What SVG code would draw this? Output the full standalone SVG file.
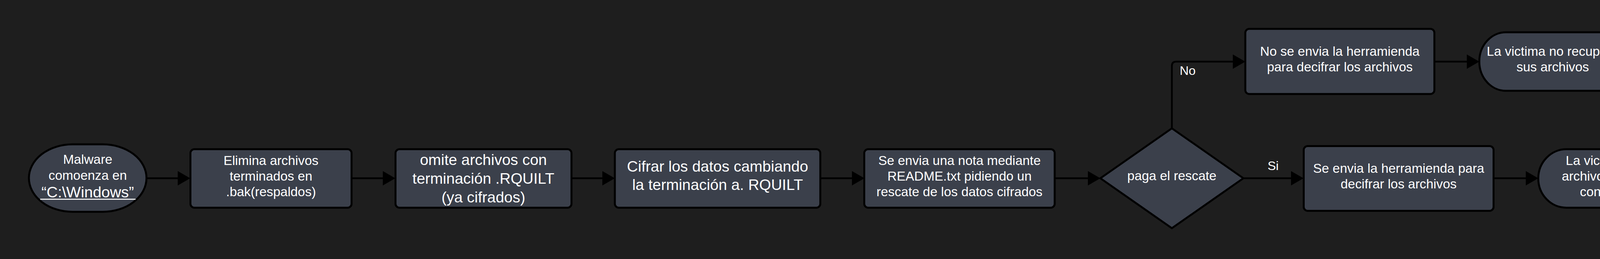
<svg xmlns="http://www.w3.org/2000/svg" width="4500" height="664" viewBox="0 0 4500 664">
<defs>
<style>
.bg{fill:#1e1e1e}
.n{fill:#3b404b;stroke:#000;stroke-width:5;stroke-linejoin:round}
.t{fill:#fff;font-family:"Liberation Sans",Arial,sans-serif;font-size:33.4px;text-anchor:middle}
.tl{font-size:39px}
.lbl{fill:#fff;font-family:"Liberation Sans",Arial,sans-serif;font-size:32px}
.c{fill:none;stroke:#000;stroke-width:4.5;marker-end:url(#ah)}
</style>
<marker id="ah" markerUnits="userSpaceOnUse" markerWidth="34" markerHeight="38" refX="12" refY="18.5" orient="auto" viewBox="0 0 34 38">
<path d="M0,0 L32,18.5 L0,37 Z" fill="#000"/>
</marker>
</defs>
<rect class="bg" x="0" y="0" width="4500" height="664"/>

<g id="connectors">
<path class="c" d="M375,457 H467"/>
<path class="c" d="M900,457 H992"/>
<path class="c" d="M1463,457 H1554"/>
<path class="c" d="M2100,457 H2193"/>
<path class="c" d="M2700,457 H2797"/>
<path class="c" d="M3000,329 V169 Q3000,158 3011,158 H3168"/>
<path class="c" d="M3183,457 H3317"/>
<path class="c" d="M3672,158 H3767"/>
<path class="c" d="M3824,457 H3918"/>
</g>

<g id="n1">
<rect class="n" x="74" y="370" width="301" height="173" rx="112" ry="86.5"/>
<text class="t" x="224.5" y="420">Malware</text>
<text class="t" x="224.5" y="460.7">comoenza en</text>
<text class="t" x="224.5" y="505.7" style="font-size:39.5px">“C:\Windows”</text>
<rect x="103" y="509.5" width="244" height="2.6" fill="#fff"/>
</g>

<g id="n2">
<rect class="n" x="487.5" y="382.5" width="412.5" height="150" rx="10"/>
<text class="t" x="693.7" y="422.7">Elimina archivos</text>
<text class="t" x="693.7" y="462.7">terminados en</text>
<text class="t" x="693.7" y="502.7">.bak(respaldos)</text>
</g>

<g id="n3">
<rect class="n" x="1012.5" y="382.5" width="450.5" height="150" rx="10"/>
<text class="t tl" x="1237.5" y="423.3">omite archivos con</text>
<text class="t tl" x="1237.5" y="471.2">terminación .RQUILT</text>
<text class="t tl" x="1237.5" y="518.5">(ya cifrados)</text>
</g>

<g id="n4">
<rect class="n" x="1574" y="382.5" width="526" height="150" rx="10"/>
<text class="t tl" x="1837" y="440">Cifrar los datos cambiando</text>
<text class="t tl" x="1837" y="487.3">la terminación a. RQUILT</text>
</g>

<g id="n5">
<rect class="n" x="2212.5" y="382.5" width="487.5" height="150" rx="10"/>
<text class="t" x="2456.3" y="423.3">Se envia una nota mediante</text>
<text class="t" x="2456.3" y="463.3">README.txt pidiendo un</text>
<text class="t" x="2456.3" y="503.3">rescate de los datos cifrados</text>
</g>

<g id="n6">
<path class="n" d="M3000,329 L3183,457 L3000,585 L2817,457 Z" stroke-width="5.5"/>
<text class="t" x="3000" y="461.7">paga el rescate</text>
</g>

<g id="n7">
<rect class="n" x="3188" y="74" width="484" height="167" rx="10"/>
<text class="t" x="3430" y="143">No se envia la herramienda</text>
<text class="t" x="3430" y="183">para decifrar los archivos</text>
</g>

<g id="n8">
<rect class="n" x="3787" y="82.7" width="376" height="150" rx="68" ry="75"/>
<text class="t" x="3975" y="143.3">La victima no recupera</text>
<text class="t" x="3975" y="182.7">sus archivos</text>
</g>

<g id="n9">
<rect class="n" x="3337.5" y="374.5" width="486" height="166" rx="10"/>
<text class="t" x="3580.5" y="442.7">Se envia la herramienda para</text>
<text class="t" x="3580.5" y="483.3">decifrar los archivos</text>
</g>

<g id="n10">
<rect class="n" x="3938" y="382.5" width="484" height="150" rx="72" ry="75"/>
<text class="t" x="4180" y="423">La victima recupera los</text>
<text class="t" x="4180" y="463">archivos y el victimatario</text>
<text class="t" x="4180" y="503">consigue el dinero</text>
</g>

<g id="labels">
<text class="lbl" x="3020" y="191.7">No</text>
<text class="lbl" x="3245" y="436">Si</text>
</g>
</svg>
